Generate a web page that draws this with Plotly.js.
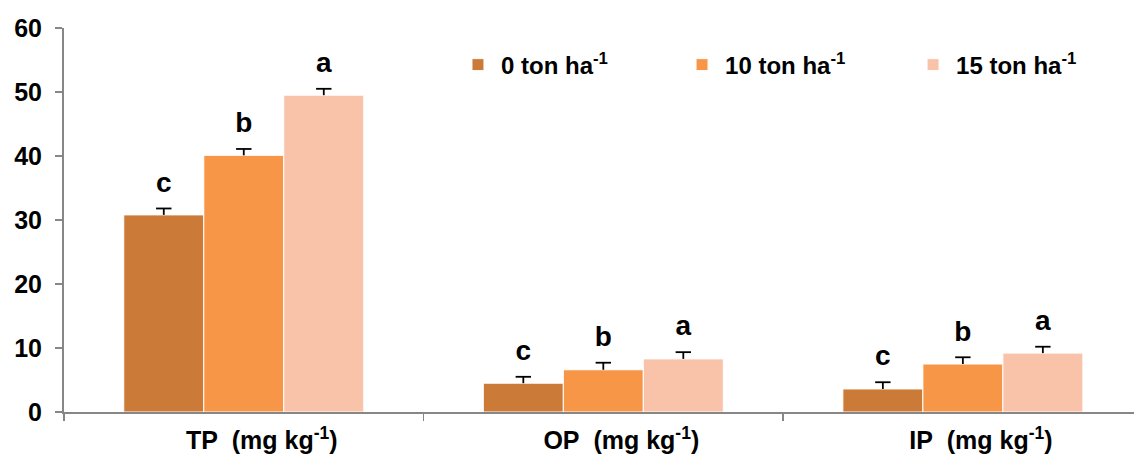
<!DOCTYPE html>
<html>
<head>
<meta charset="utf-8">
<script src="https://cdn.plot.ly/plotly-3.0.1.min.js"></script>
<style>html,body{margin:0;padding:0;background:#fff;}#chart{width:1134px;height:457px;}</style>
</head>
<body>
<div id="chart"></div>
<script>
const categories = ["TP\u00A0 (mg kg<sup>-1</sup>)", "OP\u00A0 (mg kg<sup>-1</sup>)", "IP\u00A0 (mg kg<sup>-1</sup>)"];
const seriesNames = ["0 ton ha<sup>-1</sup>", "10 ton ha<sup>-1</sup>", "15 ton ha<sup>-1</sup>"];
const values0 = [30.8, 4.5, 3.6];
const values10 = [40.1, 6.6, 7.5];
const values15 = [49.5, 8.3, 9.2];
const errors0 = [1.0, 1.0, 1.05];
const errors10 = [1.0, 1.1, 1.05];
const errors15 = [1.0, 1.05, 1.0];
const letters0 = ["c", "c", "c"];
const letters10 = ["b", "b", "b"];
const letters15 = ["a", "a", "a"];
const colors = ["#CC7A38", "#F79646", "#F9C3A9"];

const FONT = "Arial, 'Liberation Sans', sans-serif";
const vals = [values0, values10, values15];
const errs = [errors0, errors10, errors15];
const lets = [letters0, letters10, letters15];
const legendIds = ["legend", "legend2", "legend3"];

const traces = [];
vals.forEach((v, i) => {
  traces.push({
    type: "bar", name: seriesNames[i], x: categories, y: v,
    offsetgroup: String(i), legend: legendIds[i],
    marker: {color: colors[i], line: {color: "#ffffff", width: 1}},
    error_y: {type: "data", array: errs[i], arrayminus: errs[i].map(() => 0), symmetric: false,
              color: "#000000", thickness: 1.8, width: 0},
    hoverinfo: "none"
  });
});
// error bar caps
vals.forEach((v, i) => {
  traces.push({
    type: "scatter", mode: "markers", x: categories,
    y: v.map((d, j) => d + errs[i][j]),
    offsetgroup: String(i),
    marker: {symbol: "line-ew", size: 11, line: {color: "#000000", width: 1.8}},
    showlegend: false, hoverinfo: "none", cliponaxis: false
  });
});
// significance letters
vals.forEach((v, i) => {
  traces.push({
    type: "scatter", mode: "markers+text", x: categories,
    y: v.map((d, j) => d + errs[i][j]),
    text: lets[i], textposition: "top center",
    offsetgroup: String(i),
    marker: {size: 14, color: "rgba(0,0,0,0)"},
    textfont: {family: FONT, size: 28, color: "#000000", weight: "bold"},
    showlegend: false, hoverinfo: "none", cliponaxis: false
  });
});

const legFont = {family: FONT, size: 24, color: "#000000", weight: "bold"};
function leg(x) {
  return {orientation: "h", x: x, y: 0.9036, xanchor: "left", yanchor: "middle",
          font: legFont, itemwidth: 36, bgcolor: "rgba(0,0,0,0)", borderwidth: 0};
}

const layout = {
  width: 1134, height: 457,
  margin: {l: 64, r: 0, t: 28, b: 45},
  paper_bgcolor: "#ffffff", plot_bgcolor: "#ffffff",
  barmode: "group", bargap: 0.3325, bargroupgap: 0,
  scattermode: "group",
  showlegend: true,
  legend: leg(0.3654),
  legend2: leg(0.5748),
  legend3: leg(0.7907),
  xaxis: {
    type: "category", range: [-0.5, 2.476],
    showline: true, linecolor: "#878787", linewidth: 2,
    ticks: "outside", tickson: "boundaries", ticklen: 7, tickcolor: "#878787", tickwidth: 1.5,
    ticklabelstandoff: 5, ticklabelshift: 18,
    showgrid: false, zeroline: false,
    tickfont: {family: FONT, size: 25, color: "#000000", weight: "bold"}
  },
  yaxis: {
    range: [0, 60], dtick: 10, tick0: 0,
    showline: true, linecolor: "#878787", linewidth: 2,
    ticks: "outside", ticklen: 7, tickcolor: "#878787", tickwidth: 1.5,
    ticklabelstandoff: 8,
    showgrid: false, zeroline: false,
    tickfont: {family: FONT, size: 25, color: "#000000", weight: "bold"}
  }
};

Plotly.newPlot("chart", traces, layout, {displayModeBar: false, staticPlot: true});
</script>
</body>
</html>
